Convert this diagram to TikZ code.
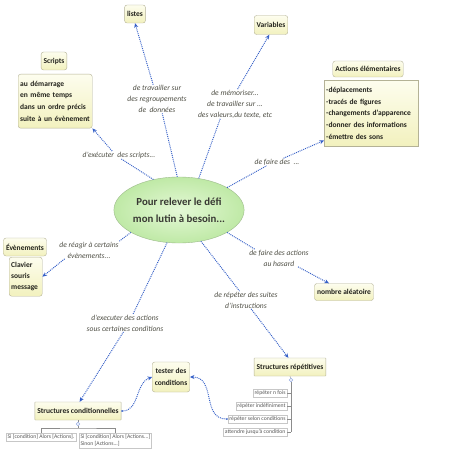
\documentclass[tikz,border=0pt]{standalone}
\usepackage{fontspec}
\setmainfont{Carlito}
\usetikzlibrary{arrows.meta,positioning,calc,shapes.geometric}
\definecolor{Ink}{HTML}{22221C}
\definecolor{Note}{HTML}{505046}
\definecolor{Link}{HTML}{3560C8}
\definecolor{TopicTop}{HTML}{FDFDEE}
\definecolor{TopicBot}{HTML}{F2F1BE}
\definecolor{TopicEdge}{HTML}{B4B296}
\definecolor{HubIn}{HTML}{E4F8D6}
\definecolor{HubOut}{HTML}{BFE9A6}
\definecolor{HubEdge}{HTML}{9CBA8A}

\begin{document}
\begin{tikzpicture}[x=1pt,y=-1pt,
  hub/.style={ellipse,draw=HubEdge,inner color=HubIn,outer color=HubOut,minimum width=114pt,
    minimum height=66pt,inner sep=0pt,align=center,text=Ink!90,font=\bfseries\fontsize{10.8}{17}\selectfont},
  topic/.style={draw=TopicEdge,rounded corners=2.5pt,top color=TopicTop,bottom color=TopicBot,text=Ink,
    font=\bfseries\fontsize{7.5}{11.5}\selectfont,inner xsep=2.5pt,inner ysep=1pt,minimum height=18pt},
  topicbox/.style={topic,rounded corners=0.5pt},
  notes/.style={draw=TopicEdge,top color=TopicTop,bottom color=TopicBot,text=Ink,align=left,
    font=\bfseries\fontsize{7.5}{11.7}\selectfont,inner xsep=2pt,inner ysep=1pt},
  tag/.style={align=center,text=Note,font=\itshape\fontsize{7.6}{11}\selectfont,inner sep=0.5pt},
  link/.style={draw=Link,densely dotted,line width=0.95pt},
  tip/.style={-{Stealth[length=4.5pt,width=4pt]}},
  subitem/.style={draw=black!22,fill=white,text=black!65,align=left,font=\fontsize{5.7}{7.2}\selectfont,inner sep=1.3pt},
  tree/.style={draw=black!45,line width=0.4pt},
  toggle/.style={circle,draw=Link!55,fill=white,inner sep=0pt,minimum size=3.5pt}]
\path[use as bounding box,fill=white] (0,0) rectangle (449,454);

% centre
\node[hub] (hub) at (179,210) {Pour relever le défi\\mon lutin à besoin...};

% topics
\node[topic] (listes) at (135,14) {listes};
\node[topic,minimum height=19pt] (variables) at (271,25) {Variables};
\node[topic] (scripts) at (54,61) {Scripts};
\node[notes,rounded corners=2.5pt,anchor=north west,text width=70pt,minimum height=54pt] (scriptsList) at (18,74)
  {au démarrage\\en même temps\\dans un ordre précis\\suite à un évènement};
\node[topic,minimum height=16pt] (actions) at (368,69) {Actions élémentaires};
\node[notes,anchor=north west,text width=90pt,minimum height=66pt] (actionsList) at (324,80)
  {-déplacements\\-tracés de figures\\-changements d'apparence\\-donner des informations\\-émettre des sons};
\node[topic] (evenements) at (25,247) {Évènements};
\node[notes,rounded corners=2.5pt,anchor=north west,text width=29pt,minimum height=39pt,
  font=\bfseries\fontsize{7.5}{10.7}\selectfont] (evenementsList) at (9,257) {Clavier\\souris\\message};
\node[topic,minimum height=17pt] (alea) at (344,292) {nombre aléatoire};
\node[topic,align=center,minimum height=30pt] (tester) at (171,377) {tester des\\conditions};
\node[topicbox] (repet) at (290,367) {Structures répétitives};
\node[topicbox] (cond) at (78,411) {Structures conditionnelles};

% labels on the links
\node[tag] (lblListes) at (157,99) {de travailler sur\\des regroupements\\de~ données};
\node[tag] (lblVariables) at (235,104) {de mémoriser...\\de travailler sur ...\\des valeurs,du texte, etc};
\node[tag] (lblScripts) at (119,155) {d'exécuter~ des scripts...};
\node[tag] (lblActions) at (277,162) {de faire des~ ...};
\node[tag] (lblEvents) at (89,250) {de réagir à certains\\évènements...};
\node[tag] (lblAlea) at (279,258) {de faire des actions\\au hasard};
\node[tag] (lblRepet) at (246,300) {de répéter des suites\\d'instructions};
\node[tag] (lblCond) at (125,323) {d'executer des actions\\sous certaines conditions};

% links
\draw[link] (hub.93) -- (lblListes.-70);
\draw[link,tip] (lblListes.105) -- (listes.south);
\draw[link] (hub.58) -- (lblVariables.-135);
\draw[link,tip] (lblVariables.80) -- (variables.-100);
\draw[link] (hub.130) -- (lblScripts.-60);
\draw[link,tip] (lblScripts.150) -- (scriptsList.south east);
\draw[link] (hub.25) -- (lblActions.-160);
\draw[link,tip] (lblActions.30) -- (actionsList.-150);
\draw[link] (hub.205) -- (lblEvents.north east);
\draw[link,tip] (lblEvents.-160) -- (evenementsList.east);
\draw[link] (hub.-25) -- (lblAlea.160);
\draw[link,tip] (lblAlea.-25) -- (alea.150);
\draw[link] (hub.-55) -- (lblRepet.126);
\draw[link,tip] (lblRepet.-60) -- (repet.100);
\draw[link] (hub.-110) -- (lblCond.48);
\draw[link,tip] (lblCond.-100) -- (cond.80);

% conditional branches
\node[toggle] (condToggle) at (78,424) {};
\coordinate (condFork) at (78,428);
\node[subitem,anchor=north] (condSi) at (41,433) {Si [condition] Alors [Actions].};
\node[subitem,anchor=north west] (condSinon) at (79,433) {Si [condition] Alors [Actions...]\\Sinon [Actions...]};
\draw[tree] (cond.south) -- (condToggle);
\draw[tree] (condToggle) -- (condFork);
\draw[tree] (condSi.north) |- (condFork) -| (condSinon.north);

% loops
\node[toggle] (repToggle) at (291,380) {};
\coordinate (repFoot) at (291,432);
\draw[tree] (repet.south) -- (repToggle);
\draw[tree] (repToggle) -- (repFoot);
\foreach \n/\y/\t in {repN/393/{répéter n fois},repI/406/{répéter indéfiniment},
    repC/419/{répéter selon conditions},repA/432/{attendre jusqu'à condition}} {
  \node[subitem,anchor=east] (\n) at (287,\y) {\t};
  \draw[tree] (\n.east) -- (\n.east -| repFoot);
}

% both kinds test conditions
\draw[link,{Circle[length=1.6pt]}-{Stealth[length=4.5pt,width=4pt]}] (cond.east) to[out=0,in=200] (tester.west);
\draw[link,{Circle[length=1.6pt]}-{Stealth[length=4.5pt,width=4pt]}] (repC.west) to[out=180,in=0,looseness=1.2] (tester.east);
\end{tikzpicture}
\end{document}
